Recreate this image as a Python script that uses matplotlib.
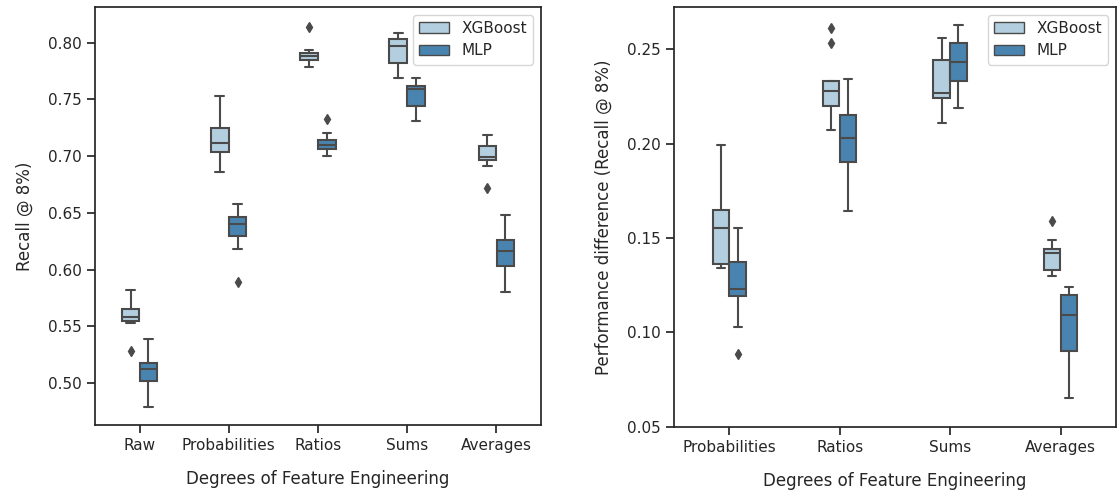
import matplotlib
matplotlib.use("Agg")
import matplotlib.pyplot as plt
from matplotlib.patches import Patch
import colorsys
import seaborn as sns

sns.set_theme(style="ticks", context="notebook")
plt.rcParams['font.family'] = ['DejaVu Sans']

models = ["XGBoost", "MLP"]

# left panel: recall @ 8%
recall_groups = ["Raw", "Probabilities", "Ratios", "Sums", "Averages"]
recall_xgb_whislo = [0.553, 0.686, 0.779, 0.769, 0.691]
recall_xgb_q1     = [0.555, 0.704, 0.785, 0.782, 0.697]
recall_xgb_med    = [0.558, 0.712, 0.788, 0.797, 0.699]
recall_xgb_q3     = [0.565, 0.725, 0.791, 0.803, 0.709]
recall_xgb_whishi = [0.582, 0.753, 0.794, 0.809, 0.719]
recall_xgb_fliers = [[0.528], [], [0.814], [], [0.672]]

recall_mlp_whislo = [0.479, 0.618, 0.700, 0.731, 0.580]
recall_mlp_q1     = [0.502, 0.630, 0.706, 0.744, 0.603]
recall_mlp_med    = [0.512, 0.640, 0.710, 0.759, 0.616]
recall_mlp_q3     = [0.518, 0.646, 0.714, 0.762, 0.626]
recall_mlp_whishi = [0.539, 0.658, 0.720, 0.769, 0.648]
recall_mlp_fliers = [[], [0.589], [0.733], [], []]

# right panel: performance difference
diff_groups = ["Probabilities", "Ratios", "Sums", "Averages"]
diff_xgb_whislo = [0.134, 0.207, 0.211, 0.130]
diff_xgb_q1     = [0.136, 0.220, 0.224, 0.133]
diff_xgb_med    = [0.155, 0.228, 0.227, 0.142]
diff_xgb_q3     = [0.165, 0.233, 0.244, 0.144]
diff_xgb_whishi = [0.199, 0.233, 0.256, 0.149]
diff_xgb_fliers = [[], [0.253, 0.261], [], [0.159]]

diff_mlp_whislo = [0.103, 0.164, 0.219, 0.065]
diff_mlp_q1     = [0.119, 0.190, 0.233, 0.090]
diff_mlp_med    = [0.123, 0.203, 0.243, 0.109]
diff_mlp_q3     = [0.137, 0.215, 0.253, 0.120]
diff_mlp_whishi = [0.155, 0.234, 0.263, 0.124]
diff_mlp_fliers = [[0.0885], [], [], []]


def desat(c, prop=0.75):
    h, l, s = colorsys.rgb_to_hls(*c)
    return colorsys.hls_to_rgb(h, l, s * prop)


colors = [desat(c) for c in sns.color_palette("Blues", 2)]
lum = min(colorsys.rgb_to_hls(*c)[1] for c in colors) * 0.6
gray = (lum, lum, lum)


def make_stats(whislo, q1, med, q3, whishi, fliers):
    return [dict(whislo=a, q1=b, med=c, q3=d, whishi=e, fliers=f)
            for a, b, c, d, e, f in zip(whislo, q1, med, q3, whishi, fliers)]


def draw(ax, groups, series, half):
    for k, stats in enumerate(series):
        off = -half if k == 0 else half
        pos = [i + off for i in range(len(groups))]
        ax.bxp(stats, positions=pos, widths=2 * half * 0.98, patch_artist=True,
               manage_ticks=False,
               boxprops=dict(facecolor=colors[k], edgecolor=gray, linewidth=1.5),
               medianprops=dict(color=gray, linewidth=1.5),
               whiskerprops=dict(color=gray, linewidth=1.5),
               capprops=dict(color=gray, linewidth=1.5),
               flierprops=dict(marker='d', markerfacecolor=gray, markeredgecolor=gray,
                               markersize=5))
    ax.set_xticks(range(len(groups)))
    ax.set_xticklabels(groups)
    ax.set_xlim(-0.5, len(groups) - 0.5)
    ax.set_xlabel("Degrees of Feature Engineering", labelpad=12)
    handles = [Patch(facecolor=colors[k], edgecolor=gray, linewidth=1.0, label=m)
               for k, m in enumerate(models)]
    ax.legend(handles=handles, loc="upper right")


fig = plt.figure(figsize=(11.17, 4.95), dpi=100)
ax1 = fig.add_axes([0.085, 0.1414, 0.3993, 0.8444])
ax2 = fig.add_axes([0.6034, 0.138, 0.3955, 0.8478])

draw(ax1, recall_groups,
     [make_stats(recall_xgb_whislo, recall_xgb_q1, recall_xgb_med, recall_xgb_q3,
                 recall_xgb_whishi, recall_xgb_fliers),
      make_stats(recall_mlp_whislo, recall_mlp_q1, recall_mlp_med, recall_mlp_q3,
                 recall_mlp_whishi, recall_mlp_fliers)], 0.1)
ax1.set_ylim(0.463, 0.8315)
ax1.set_yticks([0.50, 0.55, 0.60, 0.65, 0.70, 0.75, 0.80])
ax1.set_yticklabels(["0.50", "0.55", "0.60", "0.65", "0.70", "0.75", "0.80"])
ax1.set_ylabel("Recall @ 8%)", labelpad=10)

draw(ax2, diff_groups,
     [make_stats(diff_xgb_whislo, diff_xgb_q1, diff_xgb_med, diff_xgb_q3,
                 diff_xgb_whishi, diff_xgb_fliers),
      make_stats(diff_mlp_whislo, diff_mlp_q1, diff_mlp_med, diff_mlp_q3,
                 diff_mlp_whishi, diff_mlp_fliers)], 0.076)
ax2.set_ylim(0.05, 0.2723)
ax2.set_yticks([0.05, 0.10, 0.15, 0.20, 0.25])
ax2.set_yticklabels(["0.05", "0.10", "0.15", "0.20", "0.25"])
ax2.set_ylabel("Performance difference (Recall @ 8%)", labelpad=10)

fig.savefig("out.png", dpi=100)
